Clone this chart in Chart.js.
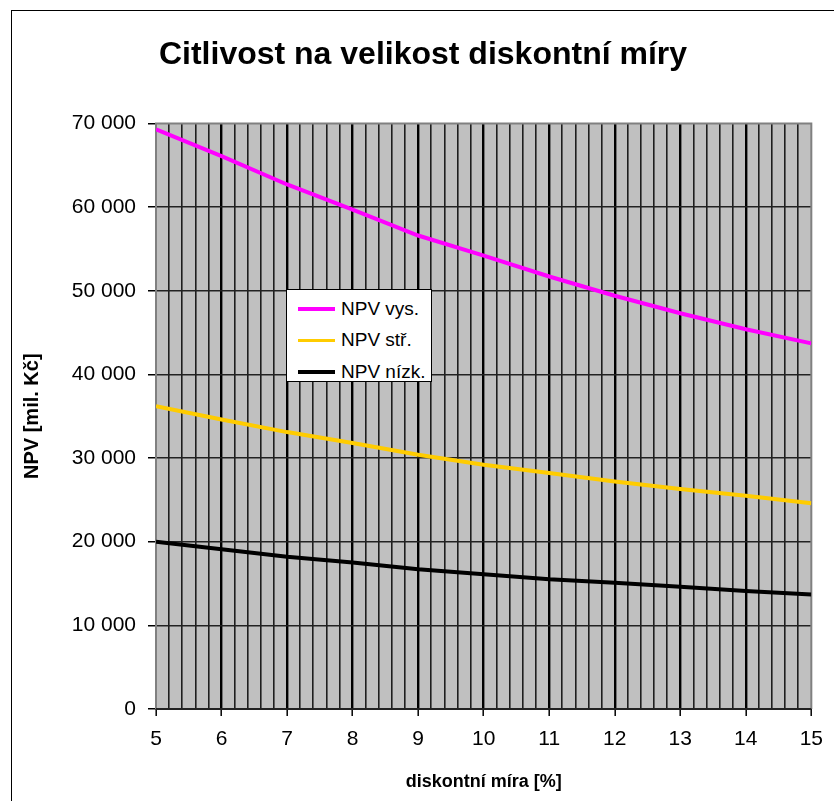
<!DOCTYPE html>
<html>
<head>
<meta charset="utf-8">
<script src="https://cdn.jsdelivr.net/npm/chart.js@4/dist/chart.umd.min.js"></script>
<style>
  body { margin: 0; overflow: hidden; background: #fff; }
  #wrap { position: relative; width: 834px; height: 801px; }
  #frame { position: absolute; left: 11px; top: 10px; width: 900px; height: 900px; border: 1px solid #000; pointer-events: none; }
  #legend { position: absolute; left: 286px; top: 289px; width: 146px; height: 93px; border: 1px solid #000; background: #fff;
            font-family: "Liberation Sans", Arial, sans-serif; font-size: 19px; color: #000; box-sizing: border-box; padding-top: 3px; }
  #legend .row { display: flex; align-items: center; height: 31.5px; }
  #legend .swatch { width: 37px; height: 3.5px; margin-left: 11px; margin-right: 6px; }
</style>
</head>
<body>
<div id="wrap">
  <canvas id="graf" width="834" height="801"></canvas>
  <div id="legend"></div>
  <div id="frame"></div>
</div>
<script>
// data
const mira = [5, 6, 7, 8, 9, 10, 11, 12, 13, 14, 15];
const npvVys = [69300, 66100, 62700, 59700, 56600, 54200, 51700, 49400, 47300, 45400, 43700];
const npvStr = [36200, 34600, 33100, 31800, 30400, 29200, 28200, 27200, 26300, 25500, 24600];
const npvNizk = [20000, 19100, 18200, 17500, 16700, 16100, 15500, 15100, 14600, 14100, 13700];
const nazvy = ['NPV vys.', 'NPV stř.', 'NPV nízk.'];
const barvy = ['#ff00ff', '#ffcc00', '#000000'];

const pismo = '"Liberation Sans", Arial, sans-serif';

function body(hodnoty) {
    return mira.map((x, i) => ({ x: x, y: hodnoty[i] }));
}

function jeCele(v) {
    return Math.abs(v - Math.round(v)) < 1e-6;
}

function tisice(v) {
    return String(v).replace(/\B(?=(\d{3})+(?!\d))/g, ' ');
}

// šedé pozadí plochy grafu a rámeček
const plochaGrafu = {
    id: 'plochaGrafu',
    beforeDraw(chart) {
        const a = chart.chartArea;
        const ctx = chart.ctx;
        ctx.save();
        ctx.fillStyle = '#c0c0c0';
        ctx.fillRect(a.left, a.top, a.right - a.left, a.bottom - a.top);
        ctx.restore();
    },
    beforeDatasetsDraw(chart) {
        const a = chart.chartArea;
        const ctx = chart.ctx;
        ctx.save();
        ctx.strokeStyle = '#808080';
        ctx.lineWidth = 2;
        ctx.beginPath();
        ctx.moveTo(a.left, a.bottom);
        ctx.lineTo(a.left, a.top);
        ctx.lineTo(a.right, a.top);
        ctx.lineTo(a.right, a.bottom);
        ctx.stroke();
        ctx.strokeStyle = '#222';
        ctx.beginPath();
        ctx.moveTo(a.left, a.bottom);
        ctx.lineTo(a.right, a.bottom);
        ctx.stroke();
        ctx.restore();
    }
};

const datasety = [npvVys, npvStr, npvNizk].map((h, i) => ({
    label: nazvy[i],
    data: body(h),
    borderColor: barvy[i],
    backgroundColor: barvy[i],
    borderWidth: 4,
    pointRadius: 0,
    tension: 0,
    fill: false
}));

const graf = new Chart(document.getElementById('graf'), {
    type: 'line',
    data: { datasets: datasety },
    plugins: [plochaGrafu],
    options: {
        responsive: false,
        animation: false,
        devicePixelRatio: 1,
        layout: { padding: { left: 34, right: 22, top: 0, bottom: 0 } },
        plugins: {
            legend: { display: false },
            tooltip: { enabled: false },
            title: {
                display: true,
                text: 'Citlivost na velikost diskontní míry',
                color: '#000',
                font: { family: pismo, size: 32, weight: 'bold' },
                padding: { top: 36, bottom: 49 }
            }
        },
        scales: {
            x: {
                type: 'linear',
                min: 5,
                max: 15,
                afterFit(scale) { scale.height = 92; },
                ticks: {
                    stepSize: 0.2,
                    autoSkip: false,
                    maxRotation: 0,
                    padding: 11,
                    color: '#000',
                    font: { family: pismo, size: 21 },
                    callback: v => jeCele(v) ? String(Math.round(v)) : ''
                },
                grid: {
                    tickLength: 7,
                    color: c => (c.tick && (jeCele(c.tick.value) && (c.tick.value <= 5 || c.tick.value >= 15))) ? 'rgba(0,0,0,0)'
                        : (c.tick && jeCele(c.tick.value) ? '#000' : '#1e1e1e'),
                    lineWidth: c => c.tick && jeCele(c.tick.value) ? 2.4 : 1.6,
                    tickColor: c => c.tick && jeCele(c.tick.value) ? '#000' : 'rgba(0,0,0,0)',
                    tickWidth: 1.5
                },
                border: { display: false },
                title: {
                    display: true,
                    text: 'diskontní míra [%]',
                    color: '#000',
                    font: { family: pismo, size: 18, weight: 'bold' },
                    padding: { top: 0, bottom: 8 }
                }
            },
            y: {
                min: 0,
                max: 70000,
                afterFit(scale) { scale.width = 122; },
                ticks: {
                    stepSize: 10000,
                    padding: 12,
                    color: '#000',
                    font: { family: pismo, size: 21 },
                    callback: v => tisice(v)
                },
                grid: {
                    tickLength: 8,
                    color: c => c.tick && (c.tick.value === 70000 || c.tick.value === 0) ? 'rgba(0,0,0,0)' : '#222',
                    lineWidth: 1.5,
                    tickColor: '#000',
                    tickWidth: 1.5
                },
                border: { display: false },
                title: {
                    display: true,
                    text: 'NPV [mil. Kč]',
                    color: '#000',
                    font: { family: pismo, size: 20, weight: 'bold' },
                    padding: { top: -14, bottom: 0 }
                }
            }
        }
    }
});

// legenda uvnitř grafu, sestavená z datasetů
const legenda = document.getElementById('legend');
graf.data.datasets.forEach(ds => {
    const r = document.createElement('div');
    r.className = 'row';
    const s = document.createElement('span');
    s.className = 'swatch';
    s.style.background = ds.borderColor;
    const t = document.createElement('span');
    t.textContent = ds.label;
    r.appendChild(s);
    r.appendChild(t);
    legenda.appendChild(r);
});
</script>
</body>
</html>
